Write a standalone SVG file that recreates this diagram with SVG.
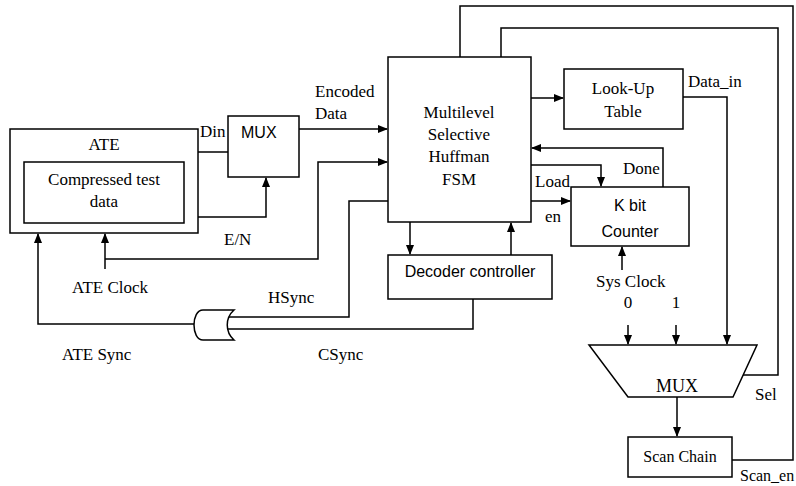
<svg xmlns="http://www.w3.org/2000/svg" width="796" height="486" viewBox="0 0 796 486">
<style>
.box{fill:#fff;stroke:#000;stroke-width:1.5}
.ln{fill:none;stroke:#000;stroke-width:1.5}
.t{font-family:"Liberation Serif","Times New Roman",serif;font-size:17px;fill:#000}
.s{font-family:"Liberation Sans",Arial,sans-serif;font-size:16px;fill:#000}
.m{text-anchor:middle}
</style>
<defs>
<marker id="ar" markerWidth="10" markerHeight="8" refX="9" refY="4" orient="auto" markerUnits="userSpaceOnUse">
<path d="M0,0 L10,4 L0,8 Z" fill="#000"/>
</marker>
</defs>
<rect width="796" height="486" fill="#fff"/>
<g id="connectors" class="ln">
<path d="M198,152 H228"/>
<path d="M198,217 H266 V178" marker-end="url(#ar)"/>
<path d="M299,129 H387" marker-end="url(#ar)"/>
<path d="M105,269 V234" marker-end="url(#ar)"/>
<path d="M105,259 H318 V162 H387" marker-end="url(#ar)"/>
<path d="M388,201 H349 V317 H228"/>
<path d="M473,299 V329 H228"/>
<path d="M194,324 H38 V234" marker-end="url(#ar)"/>
<path d="M410,222 V254" marker-end="url(#ar)"/>
<path d="M511,255 V223" marker-end="url(#ar)"/>
<path d="M531,98 H563" marker-end="url(#ar)"/>
<path d="M663,187 V148 H532" marker-end="url(#ar)"/>
<path d="M531,165 H601 V186" marker-end="url(#ar)"/>
<path d="M531,201 H570" marker-end="url(#ar)"/>
<path d="M622,270 V247" marker-end="url(#ar)"/>
<path d="M628,325 V344" marker-end="url(#ar)"/>
<path d="M676,325 V344" marker-end="url(#ar)"/>
<path d="M683,97 H727 V344" marker-end="url(#ar)"/>
<path d="M677,397 V436" marker-end="url(#ar)"/>
<path d="M743,375 H778 V28 H501 V57"/>
<path d="M732,460 H793 V6 H460 V57"/>
</g>
<g id="ate">
<rect class="box" x="10" y="129" width="188" height="104"/>
<text class="t m" x="104" y="150">ATE</text>
</g>
<g id="compressed">
<rect class="box" x="24" y="162" width="160" height="61"/>
<text class="t m" x="104" y="185">Compressed test</text>
<text class="t m" x="104" y="207">data</text>
</g>
<g id="mux1">
<rect class="box" x="228" y="116" width="71" height="61"/>
<text class="s" x="241" y="138">MUX</text>
</g>
<g id="fsm">
<rect class="box" x="388" y="57" width="143" height="165"/>
<text class="t m" x="459" y="118">Multilevel</text>
<text class="t m" x="459" y="140">Selective</text>
<text class="t m" x="459" y="162">Huffman</text>
<text class="t m" x="459" y="185">FSM</text>
</g>
<g id="lut">
<rect class="box" x="564" y="69" width="119" height="60"/>
<text class="t m" x="623" y="94">Look-Up</text>
<text class="t m" x="623" y="117">Table</text>
</g>
<g id="counter">
<rect class="box" x="571" y="187" width="118" height="59"/>
<text class="s m" x="630" y="211">K bit</text>
<text class="s m" x="630" y="237">Counter</text>
</g>
<g id="decoder">
<rect class="box" x="388" y="255" width="164" height="44"/>
<text class="s m" x="470" y="277">Decoder controller</text>
</g>
<g id="orgate">
<path class="box" d="M234,310 H203 C191,310 191,340 203,340 H234 C225,332 225,318 234,310 Z"/>
</g>
<g id="mux2">
<path class="box" d="M589,345 H757 L733,397 H628 Z"/>
<text class="t m" x="677" y="392" style="font-size:18px">MUX</text>
</g>
<g id="scanchain">
<rect class="box" x="628" y="437" width="104" height="40"/>
<text class="t m" x="680" y="462" style="font-size:16px">Scan Chain</text>
</g>
<g id="labels">
<text class="t" x="200" y="137">Din</text>
<text class="t" x="315" y="97">Encoded</text>
<text class="t" x="315" y="119">Data</text>
<text class="t" x="224" y="245">E/N</text>
<text class="t" x="72" y="293">ATE Clock</text>
<text class="t" x="268" y="303">HSync</text>
<text class="t" x="318" y="360">CSync</text>
<text class="t" x="62" y="360">ATE Sync</text>
<text class="t" x="688" y="87">Data_in</text>
<text class="t" x="623" y="174">Done</text>
<text class="t" x="535" y="187">Load</text>
<text class="t" x="545" y="222">en</text>
<text class="t" x="596" y="287">Sys Clock</text>
<text class="t m" x="628" y="308">0</text>
<text class="t m" x="676" y="308">1</text>
<text class="t" x="755" y="400">Sel</text>
<text class="t" x="740" y="481" style="font-size:16px">Scan_en</text>
</g>
</svg>
